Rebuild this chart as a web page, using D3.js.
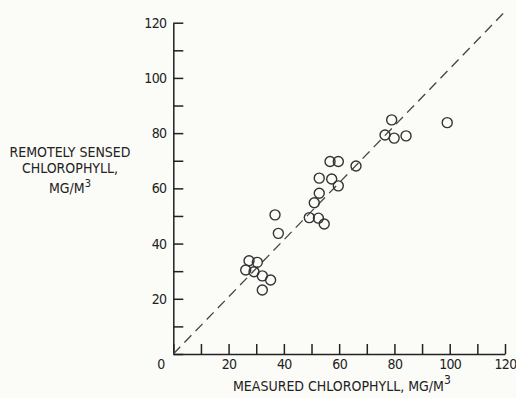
<!DOCTYPE html>
<html>
<head>
<meta charset="utf-8">
<script src="https://cdn.jsdelivr.net/npm/d3@7"></script>
<style>
  html, body { margin: 0; padding: 0; background: #fbfbf8; }
  svg text { font-family: "DejaVu Sans Condensed", "Liberation Sans Narrow", sans-serif; font-stretch: condensed; fill: #222; }
</style>
</head>
<body>
<div id="chart"></div>
<script>
// measured vs remotely sensed chlorophyll, mg/m3
var measured = [26.2, 27.4, 30.4, 29.2, 32.2, 35.2, 32.2, 36.8, 38.0, 49.2, 52.5, 54.6, 51.0,
    52.8, 52.8, 57.3, 59.7, 56.7, 59.7, 66.1, 76.6, 79.9, 84.2, 79.0, 99.1];
var sensed = [30.4, 33.8, 33.2, 29.8, 28.3, 26.8, 23.2, 50.4, 43.7, 49.4, 49.2, 47.1, 54.8,
    58.2, 63.7, 63.4, 60.9, 69.7, 69.7, 68.1, 79.3, 78.2, 79.0, 84.8, 83.8];
var xTicks = [0, 10, 20, 30, 40, 50, 60, 70, 80, 90, 100, 110, 120];
var yTicks = [0, 10, 20, 30, 40, 50, 60, 70, 80, 90, 100, 110, 120];
var labelTicks = [20, 40, 60, 80, 100, 120];
// 1:1 reference line as drawn (slightly steep in the original)
var refX = [0, 119.4];
var refY = [0, 123.4];

var width = 516, height = 398;
var svg = d3.select("#chart").append("svg")
    .attr("width", width)
    .attr("height", height);

var xScale = d3.scaleLinear().domain([0, 120]).range([173.3, 505]);
var yScale = d3.scaleLinear().domain([0, 120]).range([354, 22.7]);

var fmt = function (d) { return labelTicks.indexOf(d) >= 0 ? d : ""; };

var xAxis = svg.append("g")
    .attr("transform", `translate(0,${yScale(0)})`)
    .call(d3.axisBottom(xScale).tickValues(xTicks).tickSizeInner(-10).tickSizeOuter(0)
        .tickPadding(5).tickFormat(fmt));
var yAxis = svg.append("g")
    .attr("transform", `translate(${xScale(0)},0)`)
    .call(d3.axisLeft(yScale).tickValues(yTicks).tickSizeInner(-10).tickSizeOuter(0)
        .tickPadding(7).tickFormat(fmt));

[xAxis, yAxis].forEach(function (a) {
    a.selectAll("path, line").attr("stroke", "#222").style("stroke-width", 1.5);
    a.selectAll("text").style("font-size", "14px").style("letter-spacing", "-0.7px").attr("fill", "#222");
});

// shared origin label
svg.append("text")
    .attr("x", xScale(0) - 12)
    .attr("y", yScale(0) + 15)
    .attr("text-anchor", "middle")
    .style("font-size", "14px")
    .text("0");

// dashed reference line
svg.append("line")
    .attr("x1", xScale(refX[0]))
    .attr("y1", yScale(refY[0]))
    .attr("x2", xScale(refX[1]))
    .attr("y2", yScale(refY[1]))
    .attr("stroke", "#444")
    .attr("stroke-dasharray", "10,6")
    .style("stroke-width", 1.3);

svg.append("g").selectAll("circle")
    .data(measured)
    .join("circle")
    .attr("cx", function (d) { return xScale(d); })
    .attr("cy", function (d, i) { return yScale(sensed[i]); })
    .attr("r", 5)
    .attr("fill", "none")
    .attr("stroke", "#333")
    .style("stroke-width", 1.4);

// axis titles
var yTitle = svg.append("text")
    .attr("text-anchor", "middle")
    .style("font-size", "14px");
yTitle.append("tspan").attr("x", 70).attr("y", 157.3).text("REMOTELY SENSED");
yTitle.append("tspan").attr("x", 70).attr("y", 172.5).text("CHLOROPHYLL,");
yTitle.append("tspan").attr("x", 70).attr("y", 193).text("MG/M");
yTitle.append("tspan").attr("dy", -6).style("font-size", "11px").text("3");

var xTitle = svg.append("text")
    .attr("x", 233)
    .attr("y", 391)
    .style("font-size", "14px");
xTitle.append("tspan").text("MEASURED CHLOROPHYLL,  MG/M");
xTitle.append("tspan").attr("dy", -7).style("font-size", "12px").text("3");
</script>
</body>
</html>
